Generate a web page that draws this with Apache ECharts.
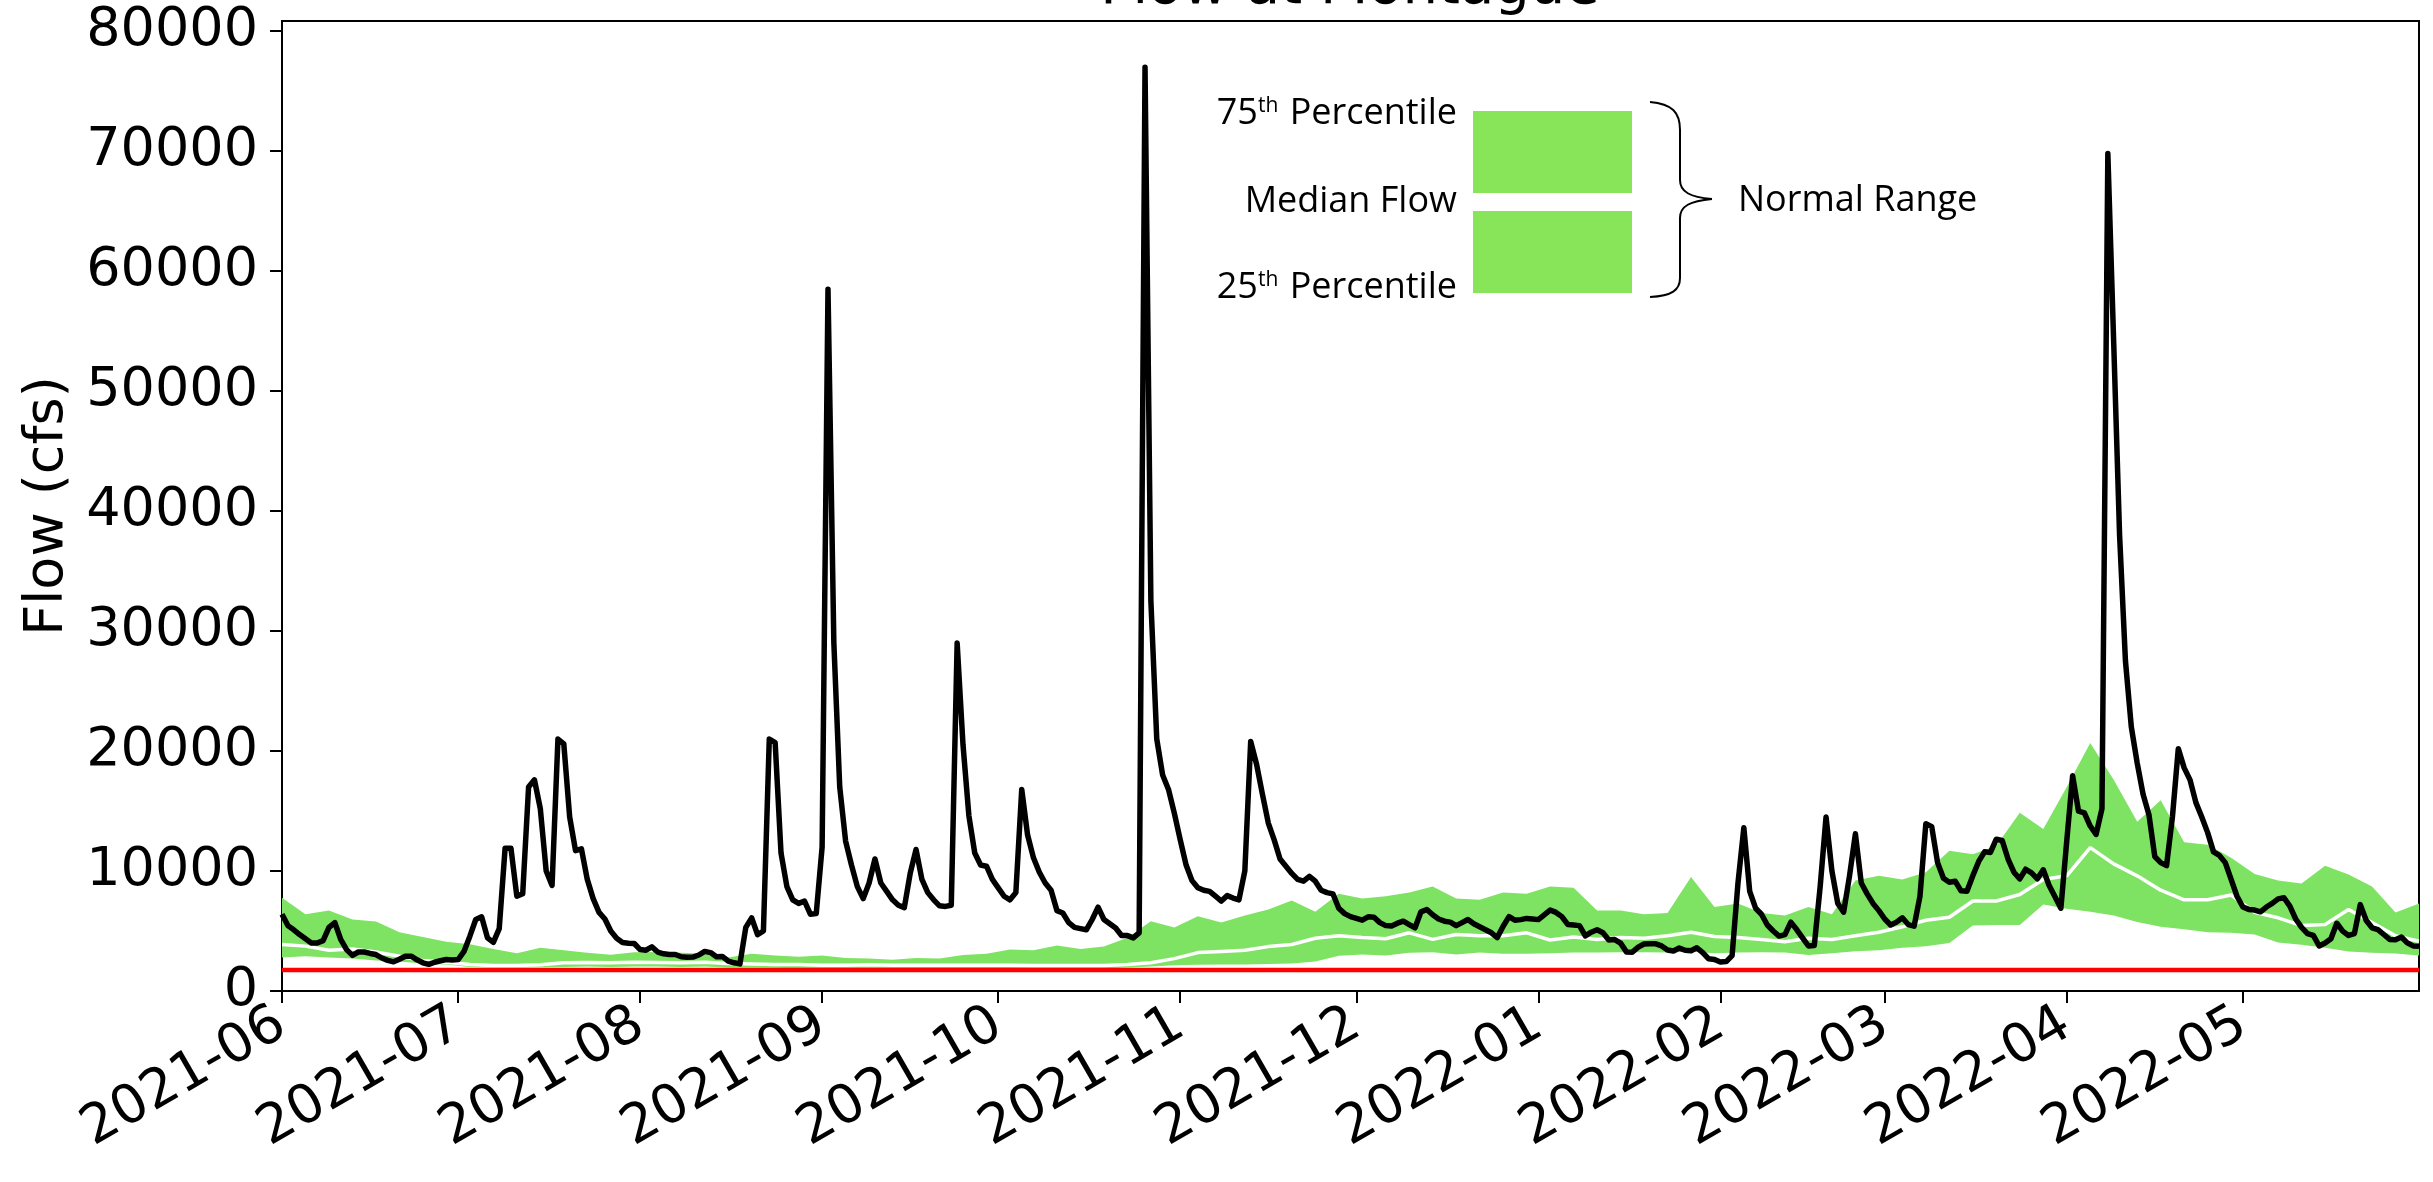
<!DOCTYPE html>
<html>
<head>
<meta charset="utf-8">
<title>Flow at Montague</title>
<script src="https://cdn.jsdelivr.net/npm/echarts@6/dist/echarts.min.js"></script>
<style>
  html, body { margin: 0; padding: 0; background: #fff; }
  #chart { width: 2433px; height: 1182px; }
</style>
</head>
<body>
<div id="chart"></div>
<script>
// daily mean flow, one value per day starting 2021-06-01
const flowCfs = [
  6400, 5450, 5100, 4700, 4350, 4000, 4000, 4200, 5300, 5700,
  4300, 3450, 2970, 3250, 3250, 3130, 3040, 2750, 2550, 2430,
  2650, 2900, 2900, 2600, 2350, 2220, 2400, 2520, 2630, 2580,
  2620, 3300, 4570, 5960, 6180, 4430, 4050, 5200, 11900, 11900,
  7900, 8100, 17000, 17600, 15200, 10000, 8800, 21000, 20600, 14500,
  11700, 11850, 9300, 7700, 6550, 6000, 5000, 4400, 4050, 3980,
  3960, 3450, 3400, 3680, 3250, 3100, 3040, 3040, 2850, 2820,
  2830, 3000, 3300, 3200, 2850, 2880, 2500, 2350, 2260, 5300,
  6100, 4700, 5000, 21000, 20700, 11500, 8700, 7600, 7300, 7490,
  6400, 6460, 12000, 58500, 29000, 17000, 12500, 10500, 8700, 7700,
  9000, 11000, 9000, 8300, 7600, 7150, 6950, 9800, 11800, 9300,
  8200, 7600, 7100, 7050, 7150, 29000, 20500, 14600, 11500, 10500,
  10400, 9300, 8600, 7900, 7600, 8200, 16800, 13000, 11100, 9900,
  9000, 8400, 6700, 6500, 5700, 5300, 5200, 5100, 5960, 6990,
  5960, 5600, 5250, 4630, 4620, 4430, 4850, 77000, 32500, 21000,
  18000, 16800, 14800, 12600, 10500, 9200, 8600, 8400, 8300, 7900,
  7500, 7950, 7750, 7600, 10000, 20800, 18900, 16400, 14000, 12600,
  11000, 10400, 9800, 9300, 9150, 9550, 9150, 8400, 8200, 8100,
  6900, 6450, 6200, 6050, 5900, 6180, 6150, 5700, 5450, 5420,
  5650, 5820, 5540, 5270, 6600, 6790, 6350, 6000, 5820, 5740,
  5450, 5700, 5960, 5600, 5350, 5100, 4850, 4450, 5400, 6200,
  5900, 5950, 6050, 6000, 5950, 6350, 6750, 6550, 6200, 5550,
  5500, 5450, 4600, 4900, 5100, 4850, 4250, 4290, 3990, 3260,
  3240, 3650, 3920, 3930, 3930, 3760, 3420, 3330, 3580, 3400,
  3350, 3600, 3200, 2680, 2630, 2420, 2450, 2950, 9000, 13600,
  8300, 6900, 6400, 5500, 5000, 4580, 4700, 5740, 5120, 4430,
  3750, 3800, 8700, 14500, 10000, 7300, 6570, 9600, 13100, 9000,
  8100, 7300, 6700, 6000, 5500, 5740, 6100, 5540, 5400, 7900,
  13950, 13700, 10700, 9400, 9070, 9150, 8350, 8320, 9600, 10800,
  11600, 11550, 12650, 12550, 11000, 9900, 9350, 10150, 9850, 9350,
  10100, 8800, 7850, 6900, 12500, 17950, 15000, 14850, 13750, 13050,
  15200, 69800, 54000, 38000, 27500, 22000, 19000, 16400, 14700, 11200,
  10700, 10450, 14500, 20200, 18600, 17600, 15700, 14500, 13200, 11600,
  11300, 10700, 9300, 7900, 7000, 6800, 6750, 6600, 7000, 7300,
  7680, 7770, 7070, 6000, 5300, 4780, 4630, 3750, 4000, 4350,
  5650, 4990, 4630, 4790, 7200, 5900, 5270, 5120, 4710, 4300,
  4280, 4500, 4010, 3760, 3740
];

// normal range, read every 4th day (day offset from 2021-06-01)
const bandDays = [
  0, 4, 8, 12, 16, 20, 24, 28, 32, 36, 40, 44, 48, 52, 56, 60, 64, 68, 72, 76,
  80, 84, 88, 92, 96, 100, 104, 108, 112, 116, 120, 124, 128, 132, 136, 140, 144, 148, 152, 156,
  160, 164, 168, 172, 176, 180, 184, 188, 192, 196, 200, 204, 208, 212, 216, 220, 224, 228, 232, 236,
  240, 244, 248, 252, 256, 260, 264, 268, 272, 276, 280, 284, 288, 292, 296, 300, 304, 308, 312, 316,
  320, 324, 328, 332, 336, 340, 344, 348, 352, 356, 360, 364
];
const p75 = [
  7770, 6400, 6700, 5950, 5800, 4900, 4500, 4100, 3900, 3500, 3150, 3600, 3400, 3180, 3020, 3240, 3250, 3180, 3100, 2800,
  3100, 2950, 2850, 2950, 2750, 2700, 2600, 2750, 2700, 3000, 3100, 3450, 3400, 3800, 3500, 3700, 4430, 5820, 5300, 6240,
  5700, 6300, 6800, 7550, 6600, 8100, 7700, 7900, 8200, 8700, 7700, 7600, 8200, 8100, 8700, 8600, 6700, 6700, 6400, 6500,
  9500, 7000, 7300, 6500, 6300, 7000, 6400, 9200, 9600, 9300, 9900, 11700, 11400, 12100, 14850, 13500, 17000, 20680, 17600, 14100,
  15900, 12400, 12200, 11100, 9750, 9200, 8950, 10450, 9700, 8700, 6550, 7290
];
const median = [
  3880, 3740, 3400, 3500, 3250, 2900, 2550, 2400, 2210, 2130, 2130, 2180, 2350, 2380, 2350, 2400, 2380, 2350, 2400, 2300,
  2250, 2200, 2200, 2150, 2150, 2180, 2150, 2150, 2150, 2150, 2150, 2150, 2130, 2130, 2130, 2130, 2200, 2350, 2700, 3200,
  3300, 3400, 3700, 3880, 4400, 4600, 4450, 4350, 4850, 4300, 4710, 4600, 4600, 4850, 4250, 4500, 4300, 4450, 4400, 4600,
  4900, 4550, 4450, 4300, 4100, 4400, 4300, 4600, 4900, 5350, 5900, 6150, 7500, 7500, 8040, 9300, 9600, 11950, 10600, 9600,
  8400, 7600, 7600, 8000, 6550, 6100, 5450, 5550, 6790, 5700, 4600, 4150
];
const p25 = [
  2800, 2900, 2800, 2700, 2550, 2450, 2300, 2200, 2000, 1950, 1950, 1980, 2000, 2050, 2000, 2050, 2050, 2000, 2050, 1950,
  1950, 1930, 1900, 1900, 1880, 1900, 1880, 1900, 1880, 1900, 1900, 1900, 1900, 1880, 1880, 1880, 1950, 2050, 2150, 2180,
  2200, 2210, 2250, 2290, 2450, 2930, 3040, 2960, 3180, 3240, 3050, 3200, 3100, 3100, 3150, 3200, 3200, 3220, 3220, 3200,
  3300, 3150, 3200, 3220, 3200, 3000, 3150, 3320, 3400, 3600, 3740, 4000, 5450, 5500, 5500, 7200, 6850, 6600, 6300, 5750,
  5350, 5150, 4900, 4850, 4700, 4050, 3850, 3600, 3300, 3180, 3130, 2960
];

const lowFlowLevel = 1750;
const monthTicks = [
  '2021-06', '2021-07', '2021-08', '2021-09', '2021-10', '2021-11',
  '2021-12', '2022-01', '2022-02', '2022-03', '2022-04', '2022-05'
];
const yTicks = [0, 10000, 20000, 30000, 40000, 50000, 60000, 70000, 80000];

function dayDate(offset) {
  return new Date(2021, 5, 1 + offset);
}
function monthDate(label) {
  const [y, m] = label.split('-').map(Number);
  return new Date(y, m - 1, 1).getTime();
}

const startTime = dayDate(0).getTime();
const endTime = dayDate(flowCfs.length - 1).getTime();

const flowData = flowCfs.map((v, i) => [dayDate(i).getTime(), v]);
const baseData = bandDays.map((d, i) => [dayDate(d).getTime(), p25[i]]);
const spanData = bandDays.map((d, i) => [dayDate(d).getTime(), p75[i] - p25[i]]);
const medianData = bandDays.map((d, i) => [dayDate(d).getTime(), median[i]]);
const monthValues = monthTicks.map(monthDate);

const tickFont = 'DejaVu Sans';
const legendFont = 'Open Sans';
const green = '#7ee363';

// curly brace next to the legend boxes
function braceCurve(x1, y1, cpx1, cpy1, cpx2, cpy2, x2, y2) {
  return {
    type: 'bezierCurve',
    shape: { x1, y1, cpx1, cpy1, cpx2, cpy2, x2, y2 },
    style: { fill: null, stroke: '#000', lineWidth: 2 },
  };
}
function braceLine(x1, y1, x2, y2) {
  return {
    type: 'line',
    shape: { x1, y1, x2, y2 },
    style: { stroke: '#000', lineWidth: 2 },
  };
}

const chart = echarts.init(document.getElementById('chart'), null, { renderer: 'canvas' });

chart.setOption({
  animation: false,
  backgroundColor: '#ffffff',
  grid: {
    left: 282,
    right: 14,
    top: 21,
    bottom: 191,
    show: true,
    borderColor: '#000',
    borderWidth: 2,
  },
  xAxis: {
    type: 'time',
    min: startTime,
    max: endTime,
    axisLine: { lineStyle: { color: '#000', width: 2 } },
    splitLine: { show: false },
    axisTick: {
      customValues: monthValues,
      length: 12,
      lineStyle: { color: '#000', width: 2 },
    },
    axisLabel: {
      customValues: monthValues,
      formatter: '{yyyy}-{MM}',
      rotate: 30,
      margin: 30,
      fontSize: 54,
      fontFamily: tickFont,
      color: '#000',
      hideOverlap: false,
    },
  },
  yAxis: {
    type: 'value',
    min: 0,
    max: 80850,
    name: 'Flow (cfs)',
    nameLocation: 'middle',
    nameRotate: 90,
    nameGap: 205,
    nameTextStyle: { fontSize: 54, fontFamily: tickFont, color: '#000' },
    axisLine: { show: true, lineStyle: { color: '#000', width: 2 } },
    splitLine: { show: false },
    axisTick: {
      show: true,
      customValues: yTicks,
      length: 12,
      lineStyle: { color: '#000', width: 2 },
    },
    axisLabel: {
      customValues: yTicks,
      formatter: (v) => String(v),
      margin: 24,
      fontSize: 54,
      fontFamily: tickFont,
      color: '#000',
    },
  },
  series: [
    {
      name: 'p25',
      type: 'line',
      data: baseData,
      stack: 'normal',
      symbol: 'none',
      silent: true,
      lineStyle: { opacity: 0 },
      z: 2,
    },
    {
      name: 'normal range',
      type: 'line',
      data: spanData,
      stack: 'normal',
      symbol: 'none',
      silent: true,
      lineStyle: { opacity: 0 },
      areaStyle: { color: green, opacity: 1 },
      z: 2,
    },
    {
      name: 'median',
      type: 'line',
      data: medianData,
      symbol: 'none',
      silent: true,
      lineStyle: { color: '#ffffff', width: 3.5 },
      z: 3,
    },
    {
      name: 'low flow',
      type: 'line',
      data: [[startTime, lowFlowLevel], [endTime, lowFlowLevel]],
      symbol: 'none',
      silent: true,
      lineStyle: { color: '#ff0000', width: 4.5 },
      z: 4,
    },
    {
      name: 'flow',
      type: 'line',
      data: flowData,
      symbol: 'none',
      silent: true,
      lineStyle: { color: '#000000', width: 5.5, join: 'round' },
      z: 5,
    },
  ],
  graphic: [
    {
      type: 'text',
      x: 1350,
      y: -12,
      style: {
        text: 'Flow at Montague',
        font: '56px "DejaVu Sans"',
        fill: '#000',
        align: 'center',
        verticalAlign: 'middle',
      },
    },
    {
      type: 'rect',
      shape: { x: 1473, y: 111, width: 159, height: 82 },
      style: { fill: '#88e55a' },
    },
    {
      type: 'rect',
      shape: { x: 1473, y: 211, width: 159, height: 82 },
      style: { fill: '#88e55a' },
    },
    {
      type: 'text',
      x: 1457,
      y: 114,
      style: {
        text: '75{sup|th} Percentile',
        fontFamily: legendFont,
        fontSize: 36,
        fill: '#000',
        align: 'right',
        verticalAlign: 'middle',
        rich: { sup: { fontSize: 21, fontFamily: legendFont, verticalAlign: 'top', padding: [0, 2, 16, 0] } },
      },
    },
    {
      type: 'text',
      x: 1457,
      y: 202,
      style: {
        text: 'Median Flow',
        fontFamily: legendFont,
        fontSize: 36,
        fill: '#000',
        align: 'right',
        verticalAlign: 'middle',
      },
    },
    {
      type: 'text',
      x: 1457,
      y: 288,
      style: {
        text: '25{sup|th} Percentile',
        fontFamily: legendFont,
        fontSize: 36,
        fill: '#000',
        align: 'right',
        verticalAlign: 'middle',
        rich: { sup: { fontSize: 21, fontFamily: legendFont, verticalAlign: 'top', padding: [0, 2, 16, 0] } },
      },
    },
    braceCurve(1650, 102, 1672, 104, 1680, 112, 1680, 130),
    braceLine(1680, 130, 1680, 180),
    braceCurve(1680, 180, 1680, 192, 1690, 197, 1712, 199),
    braceCurve(1712, 199, 1690, 201, 1680, 206, 1680, 218),
    braceLine(1680, 218, 1680, 278),
    braceCurve(1680, 278, 1680, 290, 1672, 296, 1650, 297),
    {
      type: 'text',
      x: 1738,
      y: 201,
      style: {
        text: 'Normal Range',
        fontFamily: legendFont,
        fontSize: 36,
        fill: '#000',
        align: 'left',
        verticalAlign: 'middle',
      },
    },
  ],
});
</script>
</body>
</html>
